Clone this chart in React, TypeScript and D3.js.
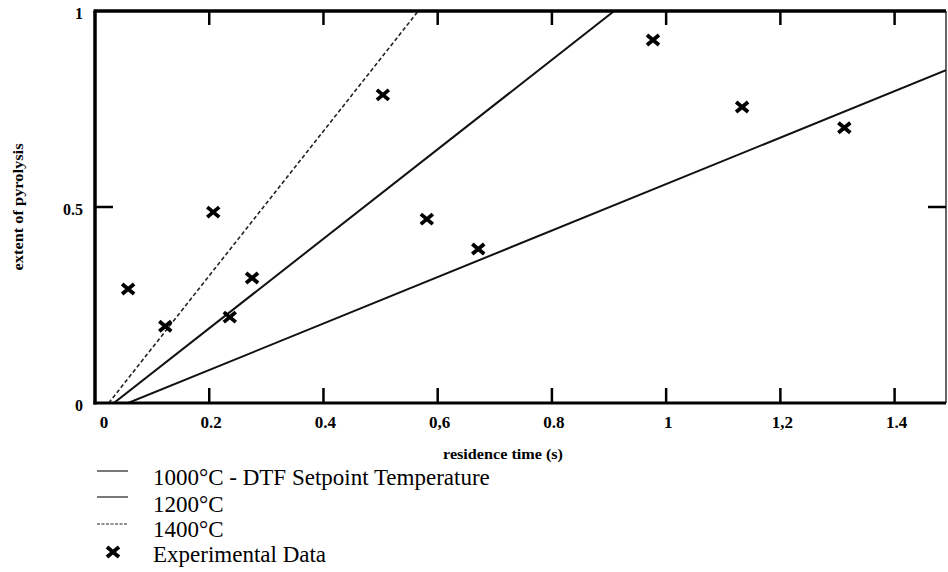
import React from "react";
import * as d3 from "d3";

// ---- data ----
const xTickValues = [0, 0.2, 0.4, 0.6, 0.8, 1, 1.2, 1.4];
const xTickLabels = ["0", "0.2", "0.4", "0,6", "0.8", "1", "1,2", "1.4"];
const yTickValues = [0, 0.5, 1];
const yTickLabels = ["0", "0.5", "1"];

const seriesNames = ["1000°C - DTF Setpoint Temperature", "1200°C", "1400°C"];
// each model line given by its two end points [time, extent]
const line1000 = [[0.058, 0], [1.49, 0.849]];
const line1200 = [[0.033, 0], [0.909, 1]];
const line1400 = [[0.024, 0], [0.566, 1]];

const expTime = [0.058, 0.123, 0.207, 0.236, 0.275, 0.504, 0.581, 0.671, 0.977, 1.133, 1.312];
const expExtent = [0.291, 0.196, 0.487, 0.219, 0.319, 0.786, 0.469, 0.393, 0.926, 0.755, 0.702];
const expName = "Experimental Data";

const xTitle = "residence time (s)";
const yTitle = "extent of pyrolysis";

// ---- layout ----
const W = 948, H = 572;
const L = 95, R = 946, T = 11, B = 403;
const FONT = "'Liberation Serif', 'Times New Roman', serif";

export default function App() {
  const x = d3.scaleLinear().domain([0, 1.49]).range([L, R]);
  const y = d3.scaleLinear().domain([0, 1]).range([B, T]);
  const lineGen = d3.line<number[]>().x(d => x(d[0])).y(d => y(d[1]));

  const lines = [
    { data: line1000, dash: undefined as string | undefined, w: 2, color: "#111" },
    { data: line1200, dash: undefined as string | undefined, w: 2, color: "#111" },
    { data: line1400, dash: "4 2.5", w: 1.6, color: "#222" },
  ];

  const cross = (cx: number, cy: number, key: React.Key) => (
    <path
      key={key}
      d={`M${cx - 6},${cy - 5}L${cx + 6},${cy + 5}M${cx - 6},${cy + 5}L${cx + 6},${cy - 5}`}
      stroke="#000"
      strokeWidth={3.8}
      fill="none"
    />
  );

  const legendRows = [471, 497, 524];
  const legendText = [485, 512, 537];

  return (
    <svg
      width={W}
      height={H}
      style={{ position: "absolute", left: 0, top: 0, background: "#fff" }}
      fontFamily={FONT}
    >
      <rect x={0} y={0} width={W} height={H} fill="#fff" />
      <defs>
        <clipPath id="plotclip">
          <rect x={L} y={T} width={R - L} height={B - T} />
        </clipPath>
      </defs>
      <g clipPath="url(#plotclip)">
        {lines.map((l, i) => (
          <path
            key={i}
            d={lineGen(l.data) || ""}
            stroke={l.color}
            strokeWidth={l.w}
            strokeDasharray={l.dash}
            fill="none"
          />
        ))}
      </g>
      {expTime.map((t, i) => cross(x(t), y(expExtent[i]), "p" + i))}

      {/* frame */}
      <line x1={L} y1={T} x2={L} y2={B + 1.5} stroke="#000" strokeWidth={3.5} />
      <line x1={L - 1.5} y1={T} x2={R} y2={T} stroke="#000" strokeWidth={3.5} />
      <line x1={L - 1.5} y1={B} x2={R} y2={B} stroke="#000" strokeWidth={3} />
      <line x1={R} y1={T} x2={R} y2={B} stroke="#000" strokeWidth={1.2} />

      {xTickValues.map((v, i) =>
        v === 0 ? null : (
          <g key={"xt" + i}>
            <line x1={x(v)} x2={x(v)} y1={B} y2={B - 15} stroke="#000" strokeWidth={2.5} />
            <line x1={x(v)} x2={x(v)} y1={T} y2={T + 14} stroke="#000" strokeWidth={2.5} />
          </g>
        )
      )}
      {xTickValues.map((v, i) => (
        <text
          key={"xl" + i}
          x={x(v) + (v === 0 ? 9 : 2)}
          y={428}
          textAnchor="middle"
          fontSize={17}
          fontWeight="bold"
        >
          {xTickLabels[i]}
        </text>
      ))}

      {yTickValues.map((v, i) =>
        v === 0.5 ? (
          <g key={"yt" + i}>
            <line x1={L} x2={L + 18} y1={y(v)} y2={y(v)} stroke="#000" strokeWidth={2.5} />
            <line x1={R - 18} x2={R} y1={y(v)} y2={y(v)} stroke="#000" strokeWidth={2.5} />
          </g>
        ) : null
      )}
      {yTickValues.map((v, i) => (
        <text
          key={"yl" + i}
          x={83}
          y={y(v) + 8}
          textAnchor="end"
          fontSize={16}
          fontWeight="bold"
        >
          {yTickLabels[i]}
        </text>
      ))}

      <text
        x={503}
        y={459}
        textAnchor="middle"
        fontSize={14}
        fontWeight="bold"
        textLength={120}
        lengthAdjust="spacingAndGlyphs"
      >
        {xTitle}
      </text>
      <text
        transform={`translate(23, ${(T + B) / 2}) rotate(-90)`}
        textAnchor="middle"
        fontSize={14}
        fontWeight="bold"
        textLength={127}
        lengthAdjust="spacingAndGlyphs"
      >
        {yTitle}
      </text>

      {seriesNames.map((n, i) => (
        <g key={"lg" + i}>
          <line
            x1={97}
            x2={128}
            y1={legendRows[i]}
            y2={legendRows[i]}
            stroke="#222"
            strokeWidth={1.2}
            strokeDasharray={lines[i].dash ? "3 1.5" : undefined}
          />
          <text x={153} y={legendText[i]} fontSize={23}>
            {n}
          </text>
        </g>
      ))}
      {cross(113, 552, "lgx")}
      <text x={153} y={562} fontSize={23}>
        {expName}
      </text>
    </svg>
  );
}
